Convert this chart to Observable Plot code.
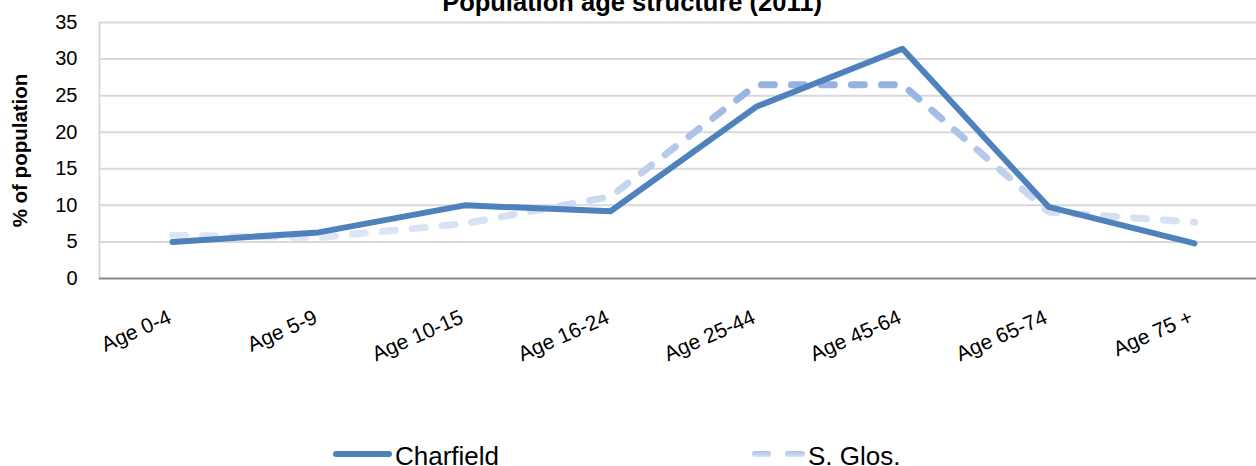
<!DOCTYPE html>
<html>
<head>
<meta charset="utf-8">
<script src="https://cdn.jsdelivr.net/npm/d3@7"></script>
<script src="https://cdn.jsdelivr.net/npm/@observablehq/plot@0.6"></script>
<style>
  html, body { margin: 0; padding: 0; background: #fff; overflow: hidden; }
  body { width: 1256px; height: 466px; font-family: "Liberation Sans", Arial, sans-serif; }
  #legend { position: relative; width: 1256px; height: 36px; }
  .sw { position: absolute; height: 6px; border-radius: 3px; }
  .lab { position: absolute; font-size: 26px; line-height: 26px; color: #000; white-space: nowrap; }
</style>
</head>
<body>
<div id="chart"></div>
<div id="legend"></div>
<script>
const title = "Population age structure (2011)";
const yLabel = "% of population";
const ageGroups = ["Age 0-4", "Age 5-9", "Age 10-15", "Age 16-24", "Age 25-44", "Age 45-64", "Age 65-74", "Age 75 +"];
const charfield = [5.0, 6.3, 10.0, 9.2, 23.5, 31.4, 9.8, 4.8];
const sGlos = [5.9, 5.6, 7.5, 11.2, 26.5, 26.5, 9.1, 7.7];
const yTicks = [0, 5, 10, 15, 20, 25, 30, 35];
const seriesNames = ["Charfield", "S. Glos."];

const rowsC = ageGroups.map((a, i) => ({age: a, value: charfield[i]}));
const rowsS = ageGroups.map((a, i) => ({age: a, value: sGlos[i]}));

const defs = () => {
  const d = d3.create("svg:defs");
  const g = d.append("linearGradient").attr("id", "sglosGrad")
    .attr("x1", 0).attr("y1", 0).attr("x2", 0).attr("y2", 1);
  g.append("stop").attr("offset", "0%").attr("stop-color", "#95b2e1");
  g.append("stop").attr("offset", "100%").attr("stop-color", "#dfe7f5");
  return d.node();
};

const chart = Plot.plot({
  width: 1256,
  height: 430,
  marginLeft: 99,
  marginRight: 0,
  marginTop: 22,
  marginBottom: 152,
  style: {fontFamily: "'Liberation Sans', Arial, sans-serif", background: "#fff"},
  x: {type: "point", domain: ageGroups, range: [99, 1267], padding: 0.5, axis: null},
  y: {domain: [0, 35], axis: null},
  marks: [
    defs,
    Plot.ruleY(yTicks.filter(t => t > 0), {stroke: "#d9d9d9", strokeWidth: 2}),
    Plot.frame({anchor: "left", stroke: "#d9d9d9", strokeWidth: 2}),
    Plot.ruleY([0], {stroke: "#878787", strokeWidth: 2}),
    Plot.axisY({ticks: yTicks, tickSize: 0, tickPadding: 22, fontSize: 20, fill: "#000", label: null}),
    Plot.text([yLabel], {frameAnchor: "left", dx: -79, rotate: -90, textAnchor: "middle", fontSize: 20.5, fontWeight: "bold", fill: "#000"}),
    Plot.text([title], {frameAnchor: "top", dy: -12, dx: -46, textAnchor: "middle", lineAnchor: "bottom", fontSize: 25.5, fontWeight: "bold", fill: "#000"}),
    Plot.text(ageGroups, {x: d => d, frameAnchor: "bottom", dy: 30, dx: -6, rotate: -24, textAnchor: "end", lineAnchor: "top", fontSize: 21, fill: "#000"}),
    Plot.line(rowsS, {x: "age", y: "value", stroke: "url(#sglosGrad)", strokeWidth: 7, strokeDasharray: "13,17", strokeLinecap: "round", strokeLinejoin: "round"}),
    Plot.line(rowsC, {x: "age", y: "value", stroke: "#4f81bd", strokeWidth: 6, strokeLinecap: "round", strokeLinejoin: "round"})
  ]
});
document.getElementById("chart").appendChild(chart);

const legend = document.getElementById("legend");
legend.innerHTML = `
  <div class="sw" style="left:333px; top:21px; width:59px; background:#4f81bd;"></div>
  <div class="lab" style="left:395px; top:13px;">${seriesNames[0]}</div>
  <div class="sw" style="left:752px; top:21px; width:19px; background:linear-gradient(to bottom,#a9c0e6,#dbe4f4);"></div>
  <div class="sw" style="left:785px; top:21px; width:20px; background:linear-gradient(to bottom,#a9c0e6,#dbe4f4);"></div>
  <div class="lab" style="left:808px; top:13px;">${seriesNames[1]}</div>
`;
</script>
</body>
</html>
